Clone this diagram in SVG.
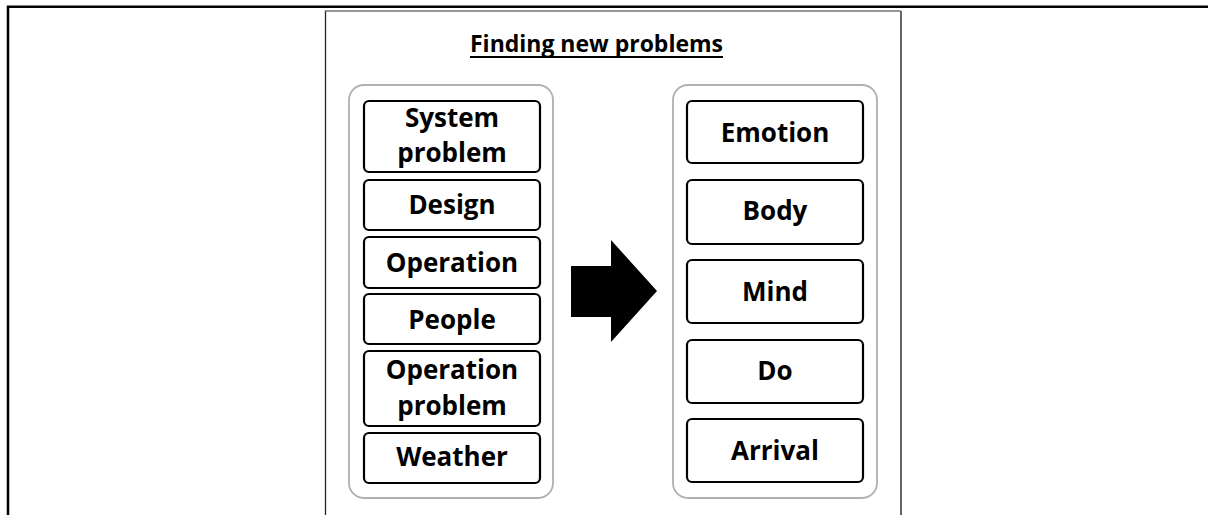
<svg xmlns="http://www.w3.org/2000/svg" width="1208" height="515" viewBox="0 0 1208 515">
<style>
.t{font-family:"Open Sans","Noto Sans",sans-serif;font-weight:bold;font-size:26px;fill:#000;text-anchor:middle}
.box{fill:#fff;stroke:#000;stroke-width:2.2}
.cont{fill:#fff;stroke:#b0b0b0;stroke-width:1.8}
</style>
<rect width="1208" height="515" fill="#fff"/>
<g id="outer-frame" fill="none" stroke="#000" stroke-width="2.5">
<path d="M8,515 V6.7 H1208"/>
</g>
<g id="inner-frame" fill="none">
<path d="M325.5,515 V11 H901" stroke="#777" stroke-width="1.5"/>
<path d="M325.5,515 V11.5" stroke="#222" stroke-width="1"/>
<path d="M901,11 V515" stroke="#666" stroke-width="2"/>
</g>
<g id="title">
<text x="596.5" y="52" class="t" style="font-size:24px" textLength="253" lengthAdjust="spacingAndGlyphs">Finding new problems</text>
<line x1="470" y1="57" x2="723" y2="57" stroke="#000" stroke-width="1.8"/>
</g>
<g id="left-container"><rect x="349" y="85" width="204" height="413" rx="15" class="cont"/></g>
<g id="right-container"><rect x="673" y="85" width="204" height="413" rx="15" class="cont"/></g>
<g id="n-system-problem"><rect x="364" y="101" width="176" height="71" rx="5" class="box"/><text x="452" y="126.5" class="t">System</text><text x="452" y="161.5" class="t">problem</text></g>
<g id="n-design"><rect x="364" y="180" width="176" height="50" rx="5" class="box"/><text x="452" y="214" class="t">Design</text></g>
<g id="n-operation"><rect x="364" y="237" width="176" height="51" rx="5" class="box"/><text x="452" y="272" class="t">Operation</text></g>
<g id="n-people"><rect x="364" y="294" width="176" height="50" rx="5" class="box"/><text x="452" y="329" class="t">People</text></g>
<g id="n-operation-problem"><rect x="364" y="351" width="176" height="75" rx="5" class="box"/><text x="452" y="379" class="t">Operation</text><text x="452" y="415" class="t">problem</text></g>
<g id="n-weather"><rect x="364" y="433" width="176" height="50" rx="5" class="box"/><text x="452" y="466" class="t">Weather</text></g>
<g id="n-emotion"><rect x="687" y="101" width="176" height="62" rx="5" class="box"/><text x="775" y="141.5" class="t">Emotion</text></g>
<g id="n-body"><rect x="687" y="180" width="176" height="64" rx="5" class="box"/><text x="775" y="220" class="t">Body</text></g>
<g id="n-mind"><rect x="687" y="260" width="176" height="63" rx="5" class="box"/><text x="775" y="301" class="t">Mind</text></g>
<g id="n-do"><rect x="687" y="340" width="176" height="63" rx="5" class="box"/><text x="775" y="380" class="t">Do</text></g>
<g id="n-arrival"><rect x="687" y="419" width="176" height="63" rx="5" class="box"/><text x="775" y="460" class="t">Arrival</text></g>
<g id="connectors">
<path d="M571,266 H611 V240 L657,291 L611,342 V317 H571 Z" fill="#000"/>
</g>
</svg>
